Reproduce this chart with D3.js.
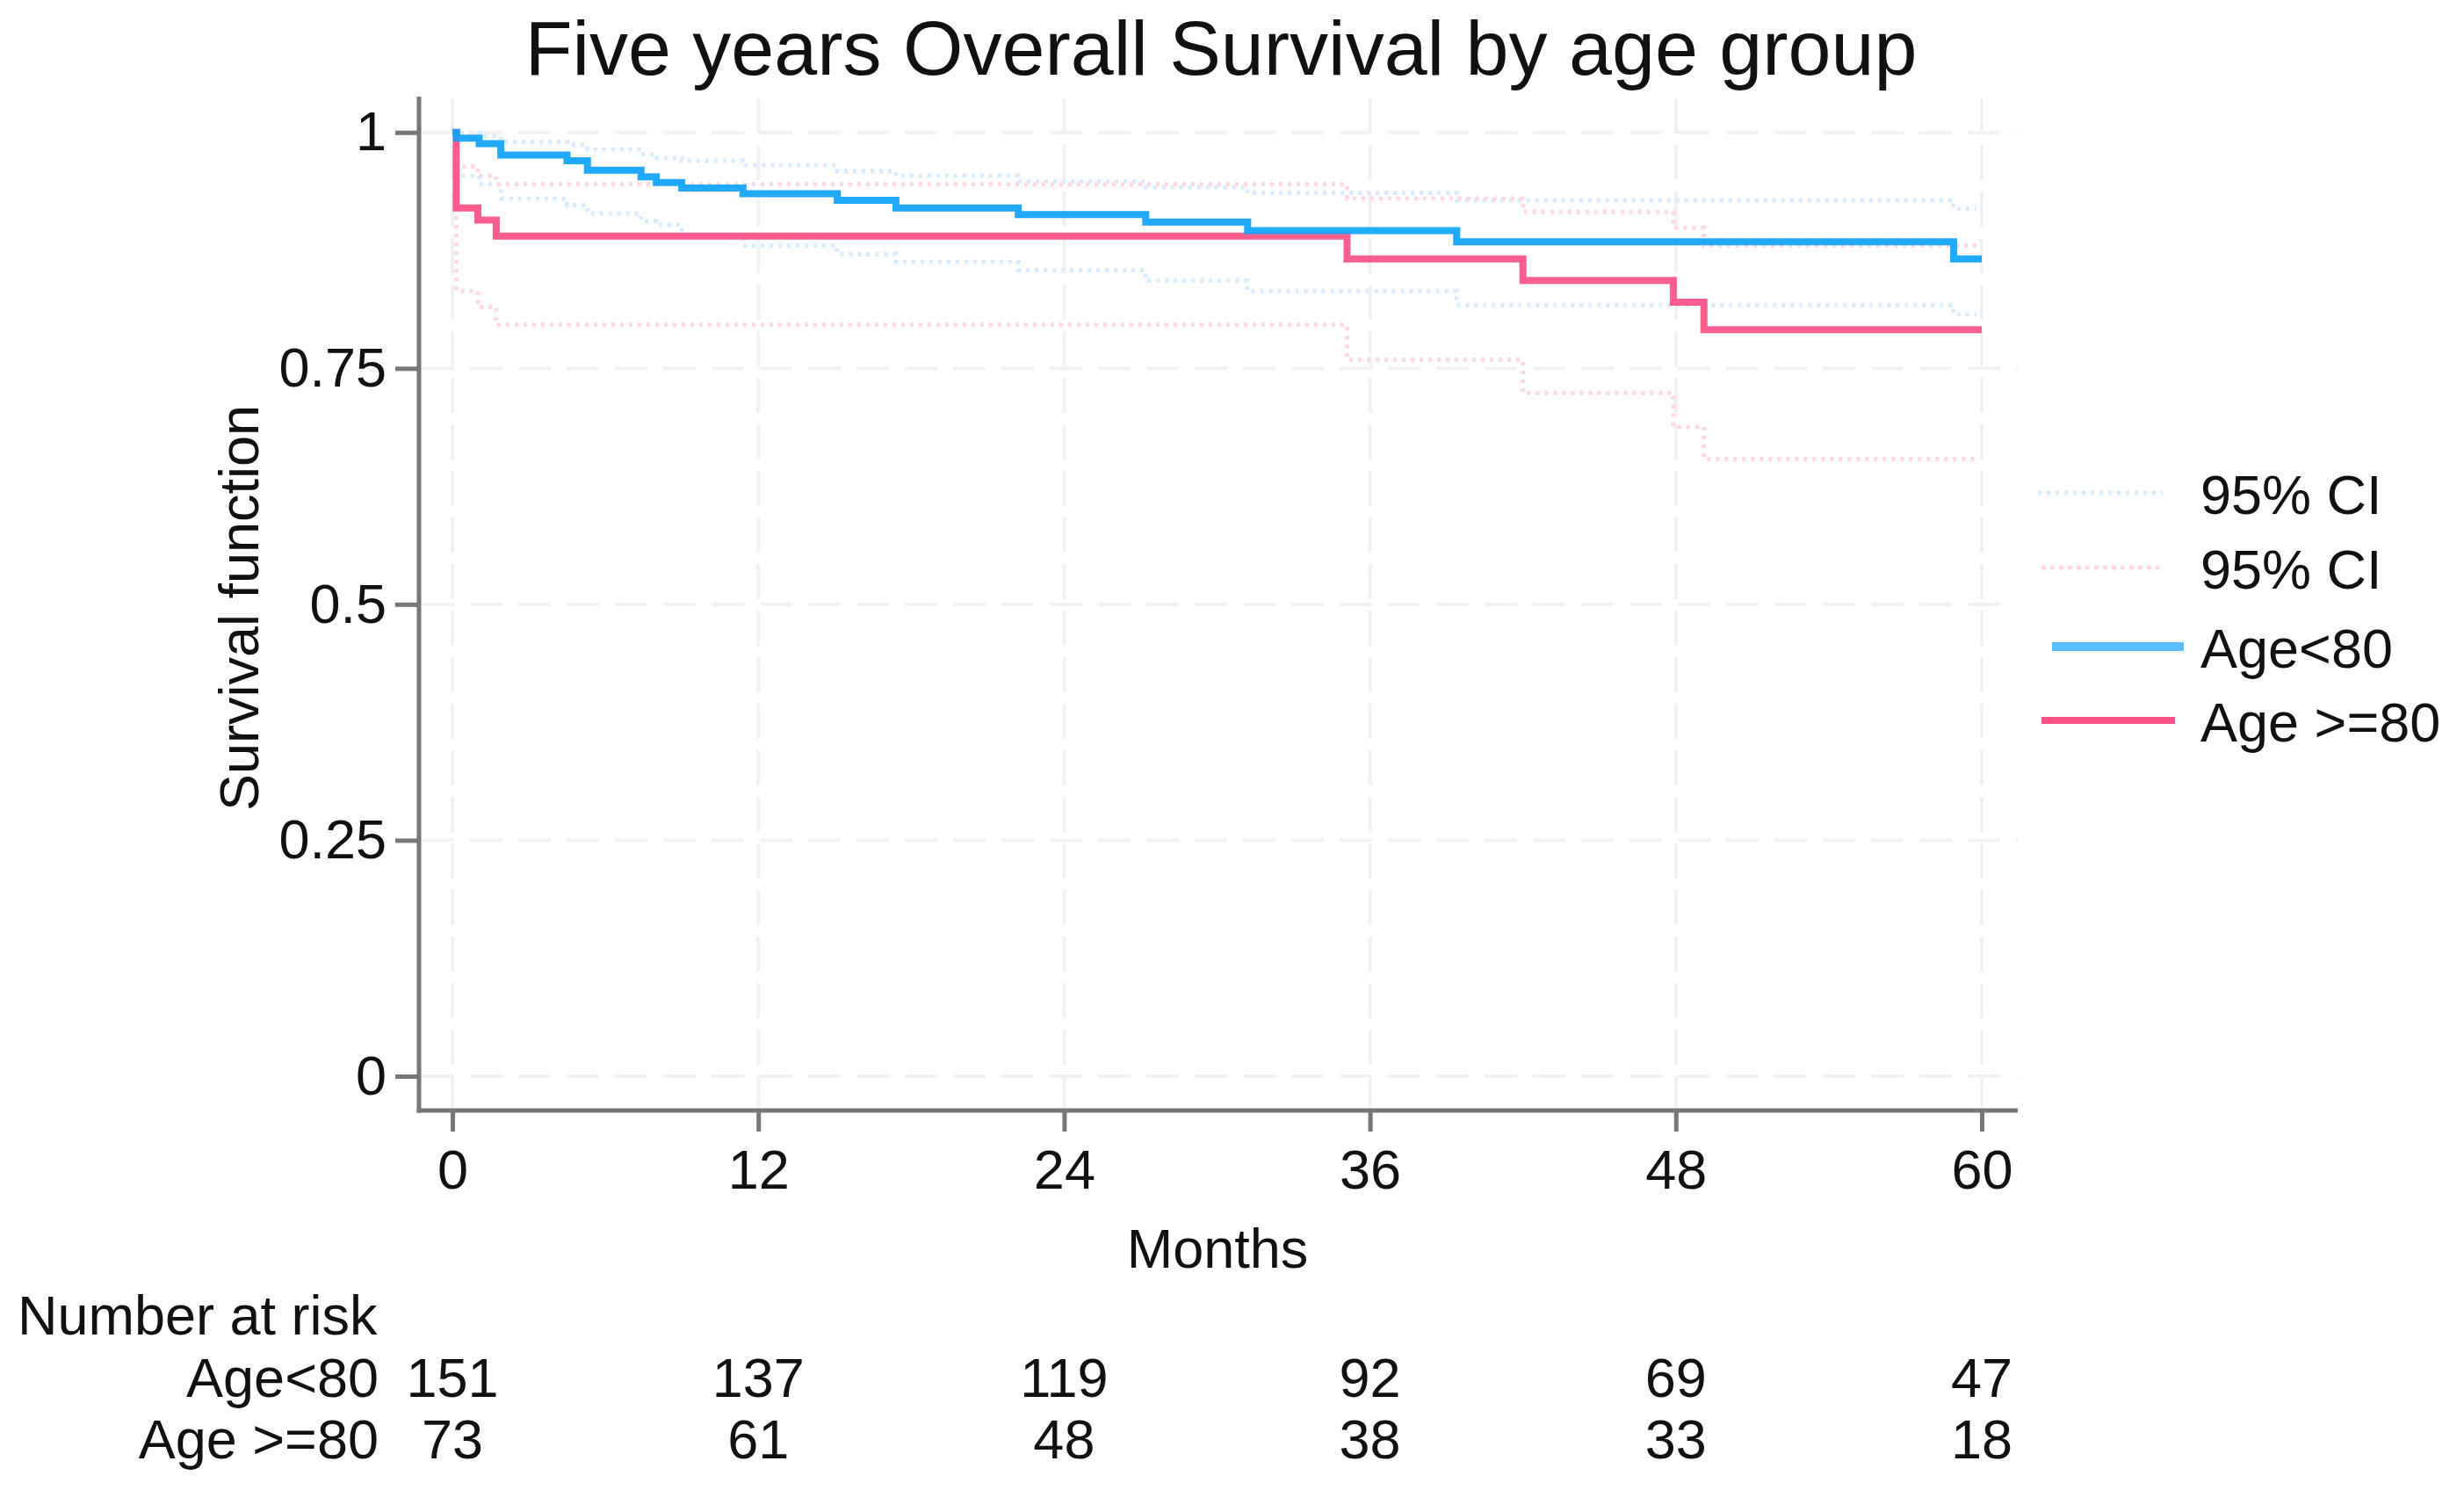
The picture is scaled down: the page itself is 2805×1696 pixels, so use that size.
<!DOCTYPE html>
<html>
<head>
<meta charset="utf-8">
<script src="https://cdn.jsdelivr.net/npm/d3@7"></script>
<style>
  body { margin: 0; background: #fff; }
  text { font-family: "Liberation Sans", Arial, sans-serif; fill: #111; }
</style>
</head>
<body>
<div class="km-chart"></div>
<script>
// x ticks (months) and y ticks
const monthTicks = [0, 12, 24, 36, 48, 60]
const survTicks = [0, 0.25, 0.5, 0.75, 1]
const groups = ["Age<80", "Age >=80"]

// number at risk under each month tick
const riskYoung = [151, 137, 119, 92, 69, 47]
const riskOld = [73, 61, 48, 38, 33, 18]

// Age<80 : step times and estimates
const youngTime  = [0, 0.17, 1.05, 1.9, 4.5, 5.3, 7.4, 8.0, 9.0, 11.4, 15.1, 17.4, 22.2, 27.2, 31.2, 39.4, 58.9, 60]
const youngSurv  = [1, 0.994, 0.988, 0.976, 0.970, 0.960, 0.953, 0.947, 0.941, 0.935, 0.928, 0.920, 0.913, 0.905, 0.896, 0.884, 0.866, 0.866]
const youngUpper = [1, 0.999, 0.996, 0.990, 0.987, 0.982, 0.977, 0.973, 0.970, 0.965, 0.959, 0.954, 0.948, 0.942, 0.936, 0.928, 0.919, 0.919]
const youngLower = [1, 0.954, 0.945, 0.930, 0.923, 0.914, 0.906, 0.902, 0.890, 0.880, 0.871, 0.863, 0.854, 0.843, 0.832, 0.817, 0.807, 0.807]

// Age >=80
const oldTime  = [0, 0.15, 1.0, 1.72, 35.1, 42.0, 47.9, 49.1, 60]
const oldSurv  = [1, 0.920, 0.907, 0.890, 0.866, 0.843, 0.820, 0.791, 0.791]
const oldUpper = [1, 0.964, 0.954, 0.945, 0.930, 0.916, 0.899, 0.880, 0.880]
const oldLower = [1, 0.832, 0.815, 0.796, 0.759, 0.724, 0.688, 0.654, 0.654]

const W = 2805, H = 1696
const blue = "#0ea2fb", red = "#fb4f86"
const blueCI = "#d8ecff", redCI = "#ffd8e3"

let svg = d3.select(".km-chart")
    .append("svg")
    .attr("width", W)
    .attr("height", H)

let xScale = d3.scaleLinear().domain([0, 60]).range([515, 2256])
let yScale = d3.scaleLinear().domain([0, 1]).range([1225, 150.7])

const plotLeft = 477, plotRight = 2297, plotTop = 110, plotBottom = 1264

// grid lines
svg.append("g")
    .selectAll("line")
    .data(survTicks)
    .join("line")
    .attr("x1", plotLeft + 3).attr("x2", plotRight)
    .attr("y1", d => yScale(d)).attr("y2", d => yScale(d))
    .attr("stroke", "#f1f1f1").attr("stroke-width", 4)
    .attr("stroke-dasharray", "37 18")

svg.append("g")
    .selectAll("line")
    .data(monthTicks)
    .join("line")
    .attr("x1", d => xScale(d)).attr("x2", d => xScale(d))
    .attr("y1", plotTop + 2).attr("y2", plotBottom - 3)
    .attr("stroke", "#f1f1f1").attr("stroke-width", 4)
    .attr("stroke-dasharray", "40 13")

// step line generator
let step = d3.line()
    .x(d => xScale(d[0]))
    .y(d => yScale(d[1]))
    .curve(d3.curveStepAfter)

const zip = (t, v) => t.map((d, i) => [d, v[i]])

const ciSeries = [
    { pts: zip(youngTime, youngUpper), color: blueCI },
    { pts: zip(youngTime, youngLower), color: blueCI },
    { pts: zip(oldTime, oldUpper), color: redCI },
    { pts: zip(oldTime, oldLower), color: redCI }
]

svg.append("g")
    .selectAll("path")
    .data(ciSeries)
    .join("path")
    .attr("d", d => step(d.pts.map((p, i, a) => i === a.length - 1 ? [59.8, p[1]] : p)))
    .attr("fill", "none")
    .attr("stroke", d => d.color)
    .attr("stroke-width", 5)
    .attr("stroke-dasharray", "4 6")

const mainSeries = [
    { pts: zip(oldTime, oldSurv), color: red },
    { pts: zip(youngTime, youngSurv), color: blue }
]

svg.append("g")
    .selectAll("path")
    .data(mainSeries)
    .join("path")
    .attr("d", d => step(d.pts))
    .attr("fill", "none")
    .attr("stroke", d => d.color)
    .attr("stroke-width", 8)
    .attr("stroke-opacity", 0.92)

// axes
let yAxis = d3.axisLeft(yScale)
    .tickValues(survTicks)
    .tickSize(27)
    .tickPadding(10)
    .tickFormat(d => String(d))

let xAxis = d3.axisBottom(xScale)
    .tickValues(monthTicks)
    .tickSize(24)
    .tickPadding(20)

let yAxisGroup = svg.append("g")
    .attr("class", "axis y-axis")
    .attr("transform", `translate(${plotLeft},0)`)
    .call(yAxis)

let xAxisGroup = svg.append("g")
    .attr("class", "axis x-axis")
    .attr("transform", `translate(0,${plotBottom})`)
    .call(xAxis)

yAxisGroup.select(".domain").remove()
xAxisGroup.select(".domain").remove()

svg.selectAll(".axis .tick line")
    .attr("stroke", "#777").attr("stroke-width", 5)
svg.selectAll(".axis .tick text")
    .attr("font-size", 63)
    .attr("fill", "#111")
    .style("font-family", "'Liberation Sans', Arial, sans-serif")

svg.append("line")
    .attr("x1", plotLeft).attr("x2", plotLeft)
    .attr("y1", plotTop).attr("y2", plotBottom + 2.5)
    .attr("stroke", "#777").attr("stroke-width", 5)
svg.append("line")
    .attr("x1", plotLeft - 2.5).attr("x2", plotRight)
    .attr("y1", plotBottom).attr("y2", plotBottom)
    .attr("stroke", "#777").attr("stroke-width", 5)

// titles
svg.append("text")
    .attr("x", 1390).attr("y", 85)
    .attr("text-anchor", "middle")
    .attr("font-size", 88)
    .text("Five years Overall Survival by age group")

svg.append("text")
    .attr("x", 1386).attr("y", 1443)
    .attr("text-anchor", "middle")
    .attr("font-size", 63)
    .text("Months")

svg.append("text")
    .attr("transform", "translate(294,692) rotate(-90)")
    .attr("text-anchor", "middle")
    .attr("font-size", 63)
    .text("Survival function")

// legend
const legendItems = [
    { label: "95% CI", color: blueCI, dash: "4 6", w: 5, x1: 2320, x2: 2462, y: 561 },
    { label: "95% CI", color: redCI, dash: "5 5", w: 5, x1: 2324, x2: 2462, y: 646 },
    { label: groups[0], color: "#5cbbff", dash: null, w: 10, x1: 2336, x2: 2486, y: 736 },
    { label: groups[1], color: red, dash: null, w: 8, x1: 2324, x2: 2476, y: 820 }
]

let legend = svg.append("g").attr("class", "legend")
legend.selectAll("line")
    .data(legendItems)
    .join("line")
    .attr("x1", d => d.x1).attr("x2", d => d.x2)
    .attr("y1", d => d.y).attr("y2", d => d.y)
    .attr("stroke", d => d.color)
    .attr("stroke-width", d => d.w)
    .attr("stroke-dasharray", d => d.dash)

legend.selectAll("text")
    .data(legendItems)
    .join("text")
    .attr("x", 2505)
    .attr("y", d => d.y + 24)
    .attr("font-size", 63)
    .text(d => d.label)

// number at risk table
svg.append("text")
    .attr("x", 20).attr("y", 1519)
    .attr("font-size", 63)
    .text("Number at risk")

const riskRows = [
    { label: groups[0], values: riskYoung, y: 1590 },
    { label: groups[1], values: riskOld, y: 1660 }
]

riskRows.forEach(row => {
    svg.append("text")
        .attr("x", 431).attr("y", row.y)
        .attr("text-anchor", "end")
        .attr("font-size", 63)
        .text(row.label)

    svg.append("g")
        .selectAll("text")
        .data(row.values)
        .join("text")
        .attr("x", (d, i) => xScale(monthTicks[i]))
        .attr("y", row.y)
        .attr("text-anchor", "middle")
        .attr("font-size", 63)
        .text(d => d)
})
</script>
</body>
</html>
